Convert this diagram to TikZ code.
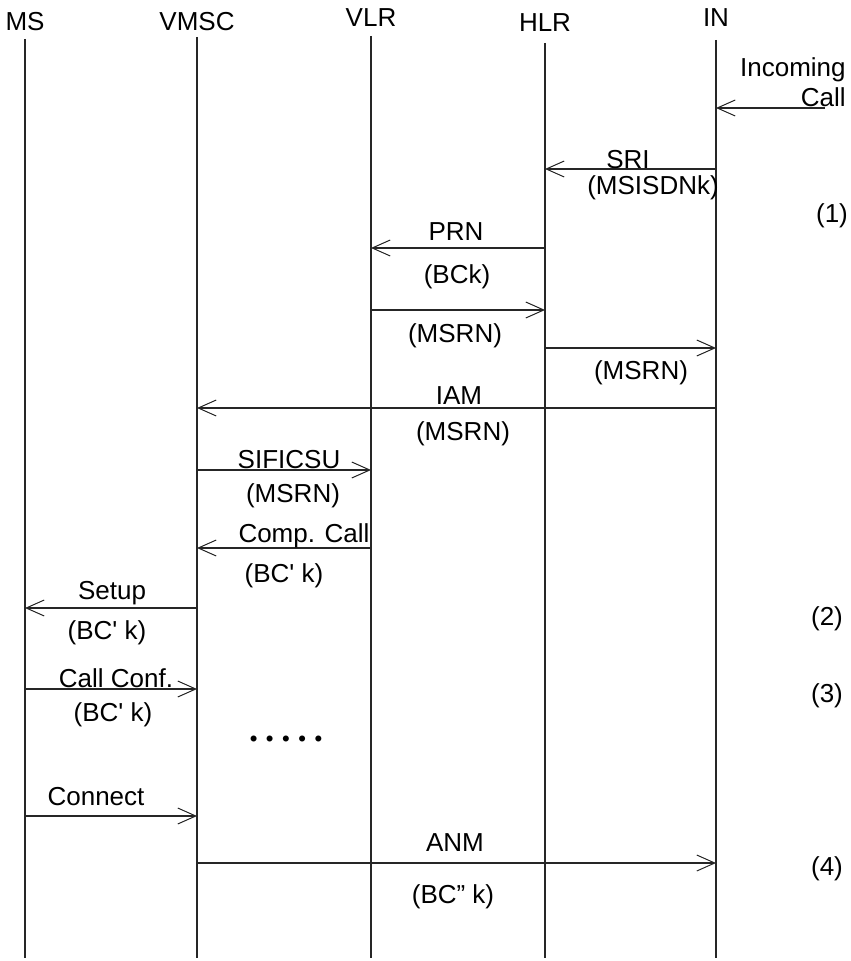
\documentclass[tikz,border=0pt]{standalone}
\usepackage{fontspec}
\setmainfont{Liberation Sans}
\usetikzlibrary{arrows.meta,positioning}

\begin{document}
\begin{tikzpicture}[
  x=0.5pt, y=-0.5pt, font=\fontsize{13}{13}\selectfont,
  head/.style={inner sep=0pt},
  life/.style={draw=black!85, line width=0.6pt},
  msg/.style={-{Straight Barb[length=9pt, width=8pt, line width=0.5pt]}, draw=black!85, line width=0.6pt},
  lbl/.style={inner sep=0pt},
  tag/.style={inner sep=0pt}
]
\useasboundingbox (0,0) rectangle (850,961);

% entities
\node[head] (ms)   at (25,22)  {MS};
\node[head] (vmsc) at (197,22) {VMSC};
\node[head] (vlr)  at (371,18) {VLR};
\node[head] (hlr)  at (545,23) {HLR};
\node[head] (in)   at (716,18) {IN};

\coordinate (bot) at (0,958);
\draw[life] (25,39)  -- (ms |- bot);
\draw[life] (197,37) -- (vmsc |- bot);
\draw[life] (371,36) -- (vlr |- bot);
\draw[life] (545,43) -- (hlr |- bot);
\draw[life] (716,40) -- (in |- bot);

% message rows
\coordinate (t-call) at (0,108);
\coordinate (t-sri)  at (0,169);
\coordinate (t-prn)  at (0,248);
\coordinate (t-ack)  at (0,310);
\coordinate (t-rsp)  at (0,348);
\coordinate (t-iam)  at (0,408);
\coordinate (t-sif)  at (0,470);
\coordinate (t-cmp)  at (0,548);
\coordinate (t-set)  at (0,608);
\coordinate (t-cnf)  at (0,689);
\coordinate (t-con)  at (0,816);
\coordinate (t-anm)  at (0,863);
\coordinate (ext) at (825,108);

\draw[msg] (ext) -- (in |- t-call);
\draw[msg] (in |- t-sri) -- (hlr |- t-sri);
\draw[msg] (hlr |- t-prn) -- (vlr |- t-prn);
\draw[msg] (vlr |- t-ack) -- (hlr |- t-ack);
\draw[msg] (hlr |- t-rsp) -- (in |- t-rsp);
\draw[msg] (in |- t-iam) -- (vmsc |- t-iam);
\draw[msg] (vmsc |- t-sif) -- (vlr |- t-sif);
\draw[msg] (vlr |- t-cmp) -- (vmsc |- t-cmp);
\draw[msg] (vmsc |- t-set) -- (ms |- t-set);
\draw[msg] (ms |- t-cnf) -- (vmsc |- t-cnf);
\draw[msg] (ms |- t-con) -- (vmsc |- t-con);
\draw[msg] (vmsc |- t-anm) -- (in |- t-anm);

% labels
\node[lbl, anchor=east] (l-inc)  at (846,70)  {Incoming};
\node[lbl, anchor=east] (l-call) at (846,97)  {Call};
\node[lbl] (l-sri)  at (628,160) {SRI};
\node[lbl] (l-sria) at (653,188) {(MSISDNk)};
\node[lbl] (l-prn)  at (456,232) {PRN};
\node[lbl] (l-prna) at (457,277) {(BCk)};
\node[lbl] (l-ack)  at (455,336) {(MSRN)};
\node[lbl] (l-rsp)  at (641,373) {(MSRN)};
\node[lbl] (l-iam)  at (459,396) {IAM};
\node[lbl] (l-iama) at (463,434) {(MSRN)};
\node[lbl] (l-sif)  at (289,460) {SIFICSU};
\node[lbl] (l-sifa) at (293,496) {(MSRN)};
\node[lbl] (l-cmp)  at (304,536) {Comp. Call};
\node[lbl] (l-cmpa) at (284,576) {(BC\textquotesingle{} k)};
\node[lbl] (l-set)  at (112,593) {Setup};
\node[lbl] (l-seta) at (107,633) {(BC\textquotesingle{} k)};
\node[lbl] (l-cnf)  at (116,678) {Call Conf.};
\node[lbl] (l-cnfa) at (113,715) {(BC\textquotesingle{} k)};
\node[lbl] (l-con)  at (96,797)  {Connect};
\node[lbl] (l-anm)  at (455,843) {ANM};
\node[lbl] (l-anma) at (453,897) {(BC'' k)};

% phases
\node[tag] (p1) at (832,216) {(1)};
\node[tag] (p2) at (827,619) {(2)};
\node[tag] (p3) at (827,696) {(3)};
\node[tag] (p4) at (827,869) {(4)};

\node[lbl, font=\fontsize{7.5}{7.5}\selectfont] (dots) at (286,739)
  {${\bullet}\hspace{4pt}{\bullet}\hspace{4pt}{\bullet}\hspace{4pt}{\bullet}\hspace{4pt}{\bullet}$};
\end{tikzpicture}
\end{document}
